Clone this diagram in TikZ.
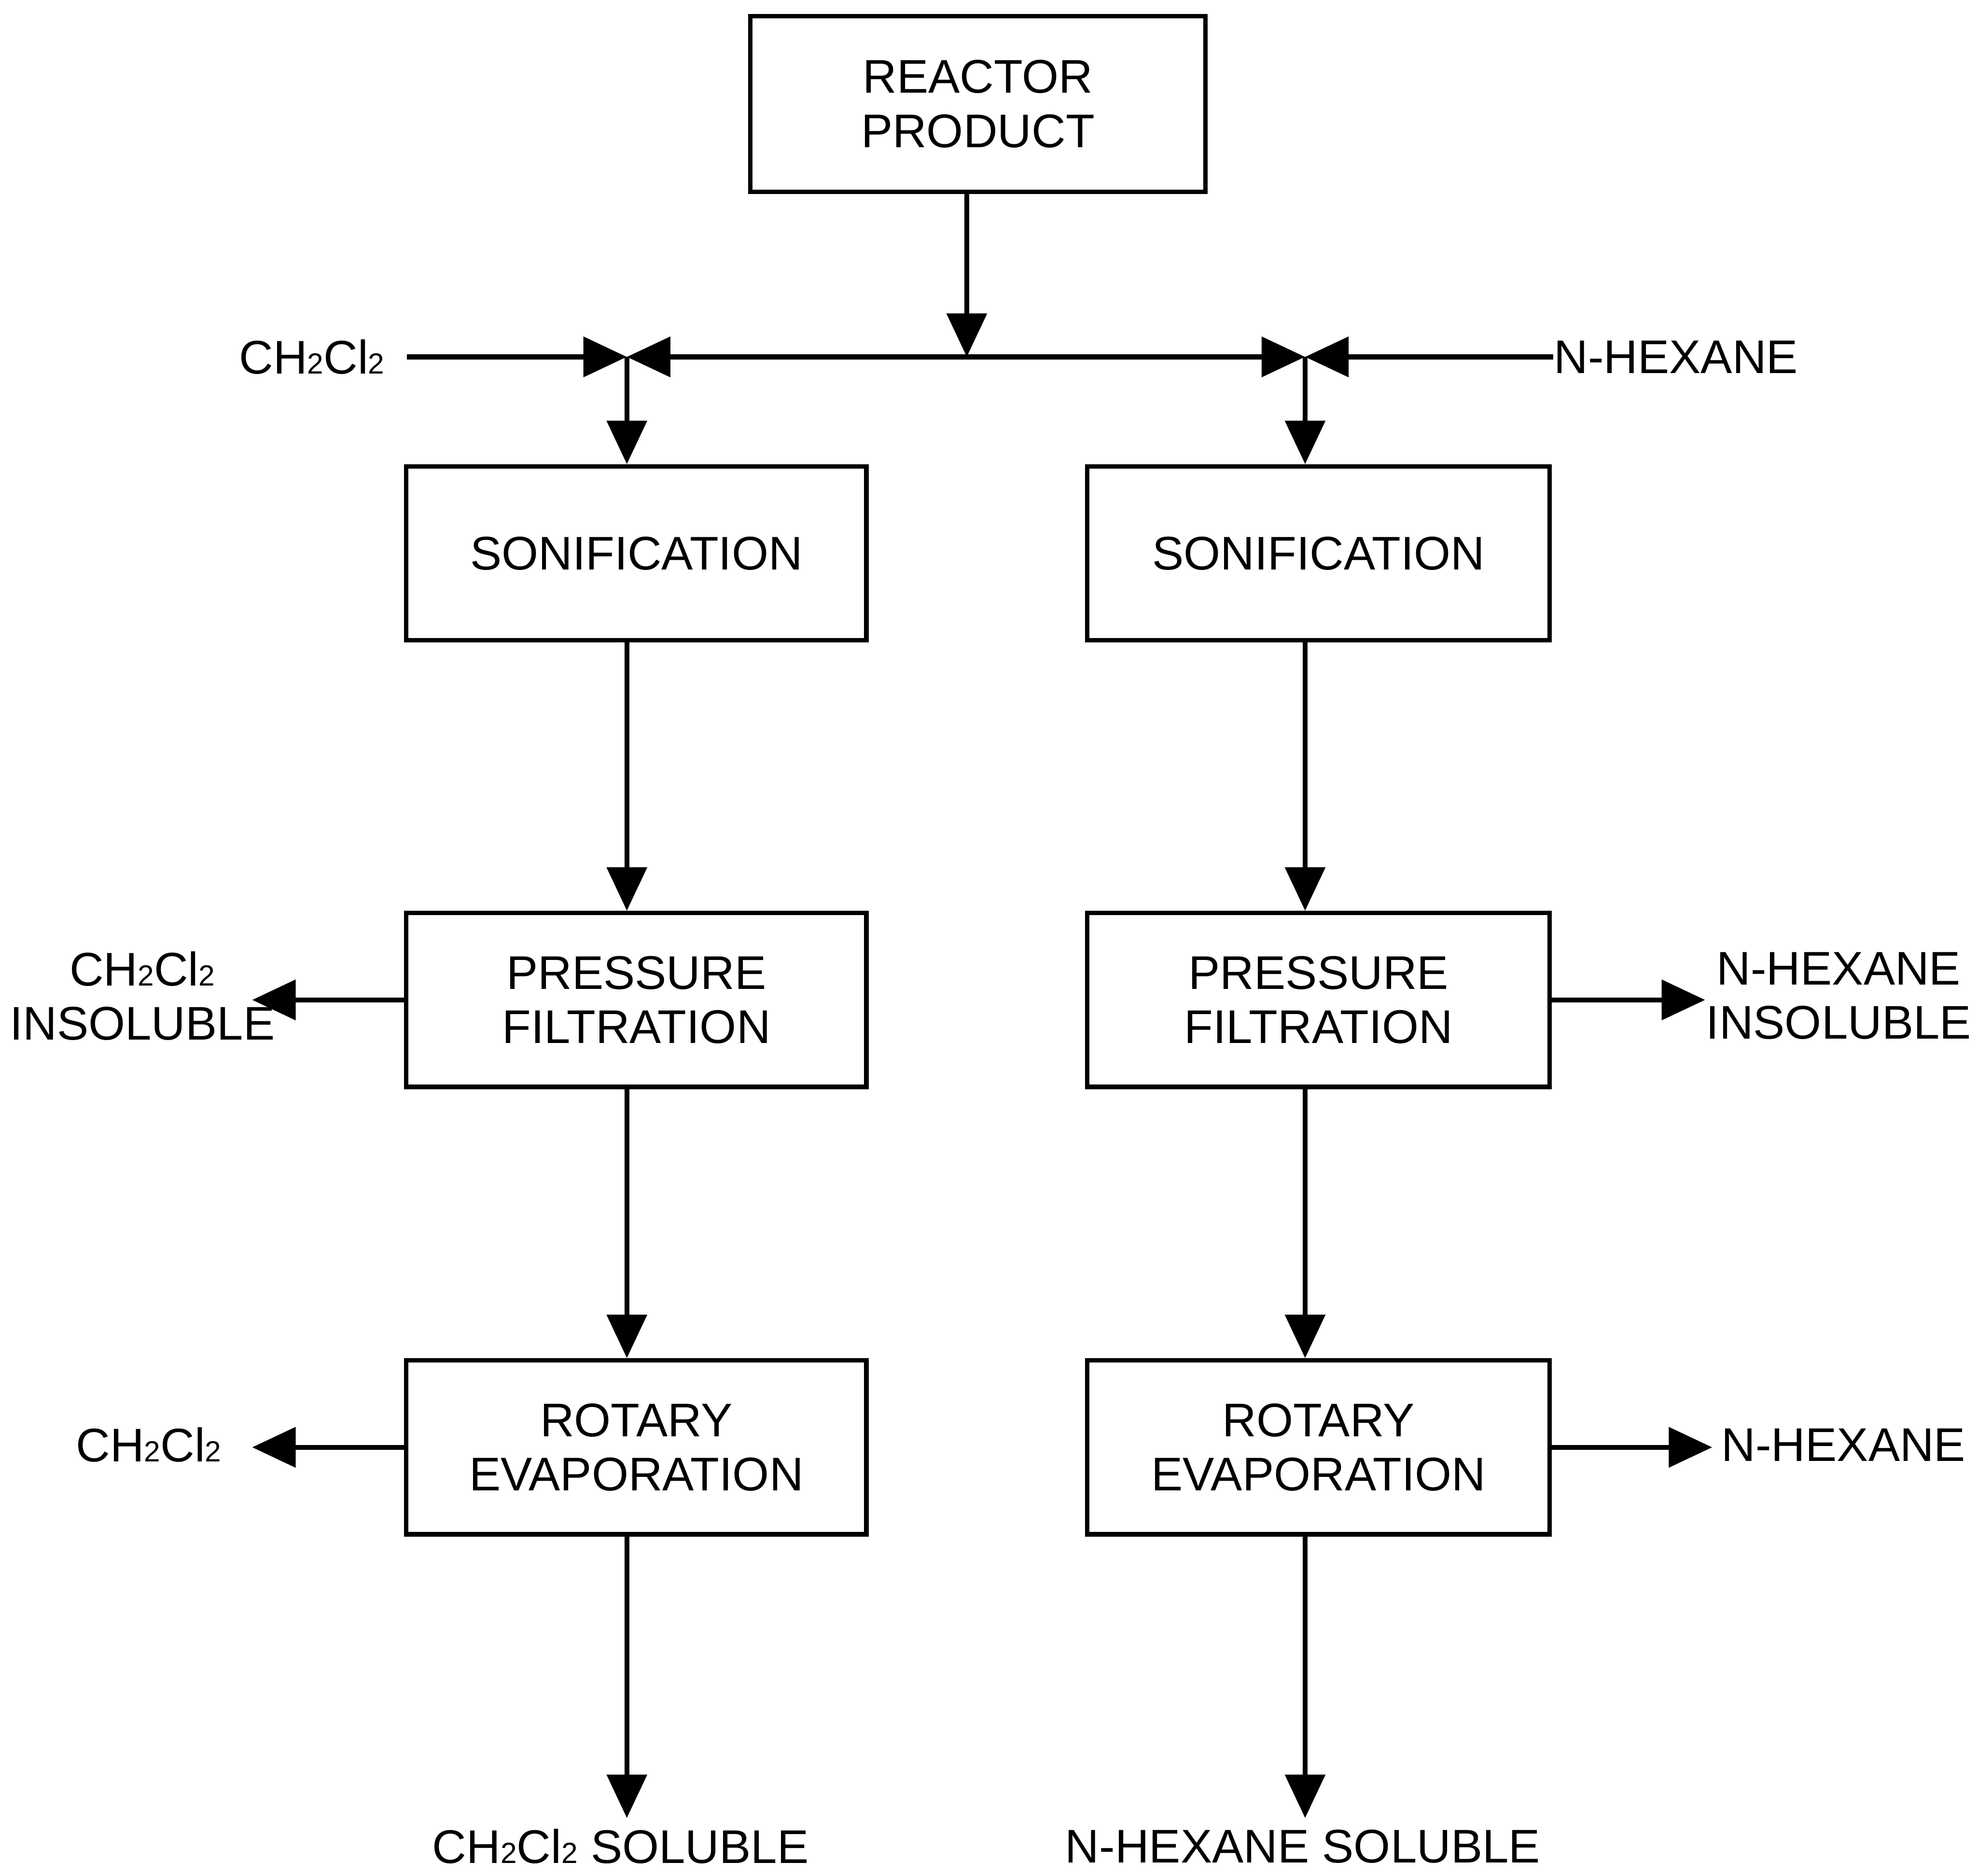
\documentclass[tikz,border=0pt]{standalone}
\usepackage{fontspec}
\setmainfont{Liberation Sans}
\usetikzlibrary{arrows.meta}
\newcommand{\dichloro}{CH{\fontsize{10.5}{10.5}\selectfont 2}Cl{\fontsize{10.5}{10.5}\selectfont 2}}
\tikzset{
    box/.style={draw, line width=1.6pt, minimum width=5.82cm, minimum height=2.2cm,
        align=center, font=\fontsize{17}{19.5}\selectfont},
    lbl/.style={align=center, inner sep=0pt, font=\fontsize{17}{19.5}\selectfont},
    flow/.style={line width=1.8pt, -{Triangle[length=0.55cm,width=0.5cm]}},
    flowboth/.style={line width=1.8pt, {Triangle[length=0.55cm,width=0.5cm]}-{Triangle[length=0.55cm,width=0.5cm]}}
}
\begin{document}
\begin{tikzpicture}
    \useasboundingbox (0,0) rectangle (25.01,-23.73);

    % Boxes
    \node[box, minimum width=5.76cm, minimum height=2.22cm] (reactor) at (12.37,-1.315) {REACTOR\\PRODUCT};
    \node[box] (sonL) at (8.05,-7.0) {SONIFICATION};
    \node[box] (filtL) at (8.05,-12.65) {PRESSURE\\FILTRATION};
    \node[box] (rotL) at (8.05,-18.31) {ROTARY\\EVAPORATION};
    \node[box, minimum width=5.85cm] (sonR) at (16.68,-7.0) {SONIFICATION};
    \node[box, minimum width=5.85cm] (filtR) at (16.68,-12.65) {PRESSURE\\FILTRATION};
    \node[box, minimum width=5.85cm] (rotR) at (16.68,-18.31) {ROTARY\\EVAPORATION};

    % Junctions on the feed line
    \coordinate (jL) at (7.93,-4.515);
    \coordinate (jM) at (12.23,-4.515);
    \coordinate (jR) at (16.51,-4.515);

    % Solvent feeds
    \node[lbl, anchor=east] (feedL) at (4.87,-4.515) {\dichloro};
    \node[lbl, anchor=west] (feedR) at (19.65,-4.515) {N-HEXANE};
    \draw[flow] (reactor.south -| jM) -- (jM);
    \draw[flow] ([xshift=0.28cm]feedL.east) -- (jL);
    \draw[flow] (feedR.west) -- (jR);
    \draw[flowboth] (jL) -- (jR);

    % Left train
    \draw[flow] (jL) -- (sonL.north -| jL);
    \draw[flow] (sonL.south -| jL) -- (filtL.north -| jL);
    \draw[flow] (filtL.south -| jL) -- (rotL.north -| jL);
    \coordinate (endL) at (7.93,-23.0);
    \draw[flow] (rotL.south -| jL) -- (endL);

    % Right train
    \draw[flow] (jR) -- (sonR.north -| jR);
    \draw[flow] (sonR.south -| jR) -- (filtR.north -| jR);
    \draw[flow] (filtR.south -| jR) -- (rotR.north -| jR);
    \coordinate (endR) at (16.51,-23.0);
    \draw[flow] (rotR.south -| jR) -- (endR);

    % Side streams
    \coordinate (insL) at (3.19,-12.65);
    \coordinate (insR) at (21.57,-12.65);
    \coordinate (solvL) at (3.19,-18.31);
    \coordinate (solvR) at (21.66,-18.31);
    \draw[flow] (filtL.west) -- (insL);
    \draw[flow] (filtR.east) -- (insR);
    \draw[flow] (rotL.west) -- (solvL);
    \draw[flow] (rotR.east) -- (solvR);

    % Labels
    \node[lbl] (insLtxt) at (1.8,-12.6) {\dichloro\\INSOLUBLE};
    \node[lbl] (insRtxt) at (23.26,-12.6) {N-HEXANE\\INSOLUBLE};
    \node[lbl] (solvLtxt) at (1.88,-18.28) {\dichloro};
    \node[lbl, anchor=west] (solvRtxt) at (21.77,-18.28) {N-HEXANE};
    \node[lbl] (solLtxt) at (7.85,-23.36) {\dichloro\ SOLUBLE};
    \node[lbl] (solRtxt) at (16.48,-23.36) {N-HEXANE SOLUBLE};
\end{tikzpicture}
\end{document}
